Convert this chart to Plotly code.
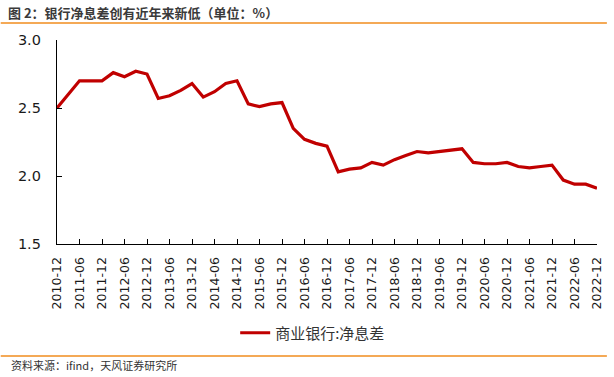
import plotly.graph_objects as go

# Quarterly net interest margin of commercial banks (%), 2010-12 .. 2022-12
quarters = [
    "2010-12", "2011-03", "2011-06", "2011-09", "2011-12",
    "2012-03", "2012-06", "2012-09", "2012-12",
    "2013-03", "2013-06", "2013-09", "2013-12",
    "2014-03", "2014-06", "2014-09", "2014-12",
    "2015-03", "2015-06", "2015-09", "2015-12",
    "2016-03", "2016-06", "2016-09", "2016-12",
    "2017-03", "2017-06", "2017-09", "2017-12",
    "2018-03", "2018-06", "2018-09", "2018-12",
    "2019-03", "2019-06", "2019-09", "2019-12",
    "2020-03", "2020-06", "2020-09", "2020-12",
    "2021-03", "2021-06", "2021-09", "2021-12",
    "2022-03", "2022-06", "2022-09", "2022-12",
]
nim = [
    2.50, 2.60, 2.70, 2.70, 2.70,
    2.76, 2.73, 2.77, 2.75,
    2.57, 2.59, 2.63, 2.68,
    2.58, 2.62, 2.68, 2.70,
    2.53, 2.51, 2.53, 2.54,
    2.35, 2.27, 2.24, 2.22,
    2.03, 2.05, 2.06, 2.10,
    2.08, 2.12, 2.15, 2.18,
    2.17, 2.18, 2.19, 2.20,
    2.10, 2.09, 2.09, 2.10,
    2.07, 2.06, 2.07, 2.08,
    1.97, 1.94, 1.94, 1.91,
]
# semiannual tick labels
tick_labels = quarters[::2]
y_ticks = [1.5, 2.0, 2.5, 3.0]

series_name = "商业银行:净息差"
title_text = "图 2：银行净息差创有近年来新低（单位：%）"
source_text = "资料来源：ifind，天风证券研究所"

idx = list(range(len(quarters)))
tick_idx = idx[::2]

fig = go.Figure()
fig.add_trace(go.Scatter(
    x=idx, y=nim, mode="lines", name=series_name,
    line=dict(color="#C00000", width=3.2),
))

W, H = 614, 377
L, R, T, B = 57, 10, 40, 133
pw = W - L - R
ph = H - T - B


def px_x(p):
    return (p - L) / pw


def px_y(p):
    return (H - B - p) / ph


orange = "#F08C1E"
fig.update_layout(
    width=W, height=H,
    margin=dict(l=L, r=R, t=T, b=B),
    paper_bgcolor="white", plot_bgcolor="white",
    showlegend=True,
    legend=dict(
        orientation="h", x=px_x(316), xanchor="center", y=px_y(333), yanchor="middle",
        font=dict(family="Noto Sans CJK SC", size=15, color="#333333"),
        bgcolor="rgba(0,0,0,0)", itemwidth=30,
    ),
    xaxis=dict(
        range=[0, len(quarters) - 1],
        tickmode="array", tickvals=tick_idx, ticktext=tick_labels,
        tickangle=-90, ticks="inside", ticklen=5, tickcolor="black",
        showline=True, linecolor="black", linewidth=1.3,
        showgrid=False, zeroline=False,
        tickfont=dict(family="DejaVu Sans", size=12.5, color="#1a1a1a"),
        ticklabelstandoff=7,
    ),
    yaxis=dict(
        range=[1.5, 3.0],
        tickmode="array", tickvals=y_ticks, tickformat=".1f",
        ticks="inside", ticklen=5, tickcolor="black",
        showline=True, linecolor="black", linewidth=1.3,
        showgrid=False, zeroline=False,
        tickfont=dict(family="DejaVu Sans", size=14.5, color="#1a1a1a"),
        ticklabelstandoff=12,
    ),
    shapes=[
        dict(type="line", xref="paper", yref="paper",
             x0=px_x(0), x1=px_x(W), y0=px_y(23), y1=px_y(23),
             line=dict(color=orange, width=1.5)),
        dict(type="line", xref="paper", yref="paper",
             x0=px_x(0), x1=px_x(W), y0=px_y(356), y1=px_y(356),
             line=dict(color=orange, width=1.5)),
    ],
    annotations=[
        dict(text="<b>" + title_text + "</b>", xref="paper", yref="paper",
             x=px_x(5), y=px_y(12), xanchor="left", yanchor="middle",
             showarrow=False,
             font=dict(family="Noto Sans CJK SC", size=13, color="#3a3a3a")),
        dict(text=source_text, xref="paper", yref="paper",
             x=px_x(8), y=px_y(365), xanchor="left", yanchor="middle",
             showarrow=False,
             font=dict(family="Noto Sans CJK SC", size=11, color="#333333")),
    ],
)

fig.write_html(
    "out.html",
    config={"displayModeBar": False},
    post_script="document.body.style.margin='0px';document.body.style.overflow='hidden';",
)
